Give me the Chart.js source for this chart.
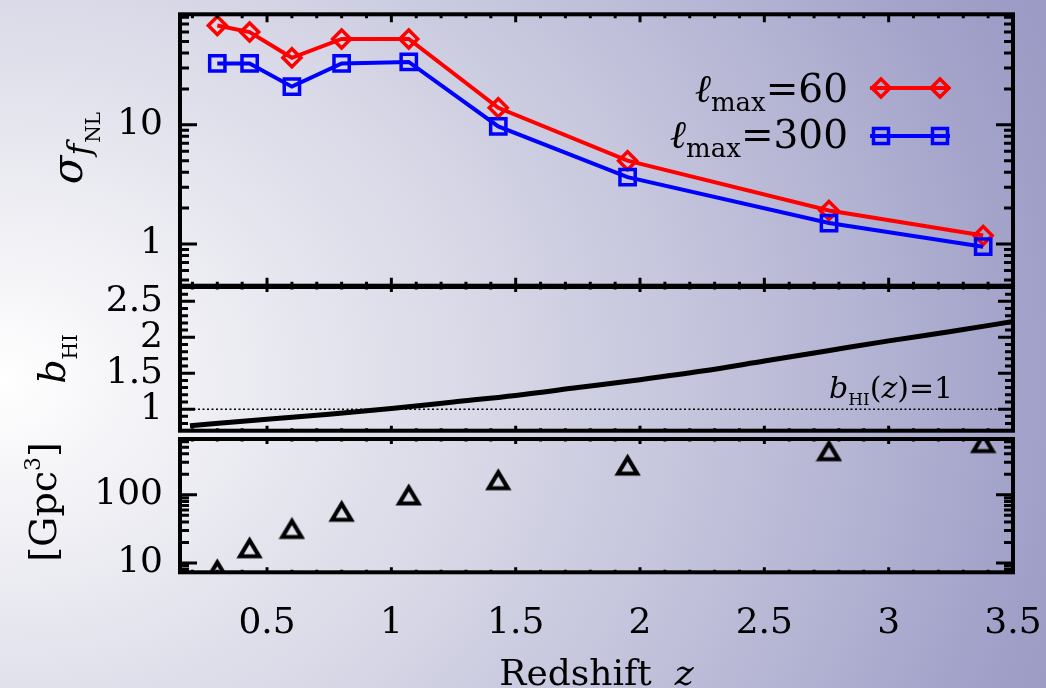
<!DOCTYPE html>
<html>
<head>
<meta charset="utf-8">
<title>Forecast sigma(fNL) vs redshift</title>
<script src="https://cdn.jsdelivr.net/npm/chart.js@4.4.1/dist/chart.umd.min.js"></script>
<style>
  html, body { margin: 0; padding: 0; }
  body {
    width: 1046px; height: 688px; overflow: hidden; position: relative;
    background: radial-gradient(ellipse 1150px 950px at 0px 380px,
      #ffffff 0%, #f0f0f5 16%, #d8d8e7 42%, #bcbcd8 68%, #9f9fc8 92%, #9a9ac4 100%);
  }
  canvas { position: absolute; left: 0; }
</style>
</head>
<body>
<canvas id="cSigma" width="1046" height="300" style="top:0px"></canvas>
<canvas id="cBias" width="1046" height="160" style="top:280px"></canvas>
<canvas id="cVol" width="1046" height="263" style="top:425px"></canvas>
<script>
// ---- data ----
const redshiftBins = [0.30, 0.43, 0.60, 0.80, 1.07, 1.43, 1.95, 2.76, 3.38];
const sigmaLmax60  = [68, 60, 36.5, 52.5, 52.5, 13.9, 5.0, 1.91, 1.18];
const sigmaLmax300 = [32.7, 32.7, 20.9, 32.7, 33.7, 9.7, 3.64, 1.50, 0.95];
const surveyVolume = [7.8, 16.4, 31.5, 56.4, 98, 164, 269, 437, 575];

const biasRedshift = [0.19, 0.5, 0.75, 1.0, 1.25, 1.5, 1.75, 2.0, 2.25, 2.5, 2.75, 3.0, 3.25, 3.5];
const biasHI       = [0.77, 0.86, 0.93, 1.01, 1.10, 1.19, 1.30, 1.41, 1.53, 1.67, 1.81, 1.95, 2.08, 2.22];
const biasUnity    = [1, 1];

const xRange = [0.15, 3.5];
const xTicks = [0.5, 1, 1.5, 2, 2.5, 3, 3.5];
const sigmaRange = [0.447, 84.5];
const sigmaTicks = [1, 10];
const biasRange = [0.7, 2.7];
const biasTicks = [1, 1.5, 2, 2.5];
const volumeRange = [7.28, 661];
const volumeTicks = [10, 100];

// ---- shared styling ----
const SERIF = '"DejaVu Serif", "Liberation Serif", serif';
const TICK_FONT = { family: SERIF, size: 36 };
const PLOT_LEFT = 180;
const PAD_RIGHT = 33;

const pts = (xs, ys) => xs.map((x, i) => ({ x, y: ys[i] }));

function range(a, b, step) {
  const out = [];
  for (let v = a; v <= b + 1e-9; v += step) out.push(Math.round(v * 1000) / 1000);
  return out;
}
const xMinor = range(0.2, 3.4, 0.1).filter(v => !xTicks.includes(v));

// inward tick marks and a box frame around each panel, IDL style
function framePlugin(cfg) {
  return {
    id: 'frame',
    afterDatasetsDraw(chart) {
      const { ctx, chartArea: a, scales } = chart;
      const xs = scales.x, ys = scales.y;
      ctx.save();
      ctx.strokeStyle = '#000';
      ctx.lineCap = 'butt';
      ctx.lineWidth = 3;
      ctx.beginPath();
      const yTick = (v, len) => {
        const p = ys.getPixelForValue(v);
        ctx.moveTo(a.left, p); ctx.lineTo(a.left + len, p);
        ctx.moveTo(a.right, p); ctx.lineTo(a.right - len, p);
      };
      const xTick = (v, len) => {
        const p = xs.getPixelForValue(v);
        ctx.moveTo(p, a.top); ctx.lineTo(p, a.top + len);
        ctx.moveTo(p, a.bottom); ctx.lineTo(p, a.bottom - len);
      };
      cfg.yMajor.forEach(v => yTick(v, cfg.yMajorLen));
      cfg.yMinor.forEach(v => yTick(v, cfg.yMinorLen));
      xTicks.forEach(v => xTick(v, cfg.xMajorLen));
      xMinor.forEach(v => xTick(v, cfg.xMinorLen));
      ctx.stroke();
      ctx.lineWidth = 4;
      ctx.strokeRect(a.left, a.top, a.right - a.left, a.bottom - a.top);
      ctx.restore();
    }
  };
}

function richWidth(ctx, parts) {
  let w = 0;
  for (const p of parts) { ctx.font = p.font; w += ctx.measureText(p.t).width + (p.kern || 0); }
  return w;
}
function drawRich(ctx, parts, x, y, align) {
  const w = richWidth(ctx, parts);
  let cx = align === 'right' ? x - w : align === 'center' ? x - w / 2 : x;
  ctx.textAlign = 'left';
  ctx.textBaseline = 'alphabetic';
  for (const p of parts) {
    ctx.font = p.font;
    ctx.fillText(p.t, cx, y + (p.dy || 0));
    cx += ctx.measureText(p.t).width + (p.kern || 0);
  }
}
function drawVertical(ctx, parts, baseX, centerY) {
  ctx.save();
  ctx.translate(baseX, centerY);
  ctx.rotate(-Math.PI / 2);
  drawRich(ctx, parts, 0, 0, 'center');
  ctx.restore();
}

function yAxis(type, rng, ticks, fmt) {
  return {
    type, min: rng[0], max: rng[1],
    afterFit(s) { s.width = PLOT_LEFT; s.paddingTop = 0; s.paddingBottom = 0; },
    afterBuildTicks(s) { s.ticks = ticks.map(v => ({ value: v })); },
    grid: { display: false, drawTicks: false },
    border: { display: false },
    ticks: { font: TICK_FONT, color: '#000', padding: 17, autoSkip: false, callback: fmt }
  };
}
const hiddenX = { type: 'linear', min: xRange[0], max: xRange[1], display: false };
const baseOptions = {
  responsive: false, animation: false, devicePixelRatio: 1,
  plugins: { legend: { display: false }, tooltip: { enabled: false } }
};

// ---- top panel: sigma(fNL) ----
const sigmaTitle = {
  id: 'sigmaTitle',
  afterDraw(chart) {
    const ctx = chart.ctx;
    ctx.save();
    ctx.fillStyle = '#000';
    drawVertical(ctx, [
      { t: 'σ', font: 'italic 42px ' + SERIF },
      { t: 'f', font: 'italic 32px ' + SERIF, dy: 8, kern: 1 },
      { t: 'NL', font: '20px ' + SERIF, dy: 18 }
    ], 82, 148);

    // legend
    const rows = [
      { n: '60', color: '#ff0000', y: 102, my: 88, style: 'diamond' },
      { n: '300', color: '#0000ff', y: 148, my: 136, style: 'square' }
    ];
    for (const r of rows) {
      ctx.fillStyle = '#000';
      drawRich(ctx, [
        { t: 'ℓ', font: 'italic 39px ' + SERIF },
        { t: 'max', font: '26px ' + SERIF, dy: 9 },
        { t: '=' + r.n, font: '39px ' + SERIF }
      ], 848, r.y, 'right');
      ctx.strokeStyle = r.color;
      ctx.lineWidth = 4;
      ctx.beginPath(); ctx.moveTo(870, r.my); ctx.lineTo(950, r.my); ctx.stroke();
      ctx.lineWidth = 3.5;
      for (const cx of [881, 940]) {
        ctx.beginPath();
        if (r.style === 'diamond') {
          ctx.moveTo(cx, r.my - 9); ctx.lineTo(cx + 9, r.my);
          ctx.lineTo(cx, r.my + 9); ctx.lineTo(cx - 9, r.my); ctx.closePath();
        } else {
          ctx.rect(cx - 7.5, r.my - 7.5, 15, 15);
        }
        ctx.stroke();
      }
    }
    ctx.restore();
  }
};

new Chart(document.getElementById('cSigma'), {
  type: 'line',
  data: {
    datasets: [
      {
        label: 'ℓmax=300', data: pts(redshiftBins, sigmaLmax300),
        borderColor: '#0000ff', borderWidth: 4,
        pointStyle: 'rect', pointRadius: 10.8, pointBorderWidth: 3.5,
        pointBorderColor: '#0000ff', pointBackgroundColor: 'rgba(0,0,0,0)'
      },
      {
        label: 'ℓmax=60', data: pts(redshiftBins, sigmaLmax60),
        borderColor: '#ff0000', borderWidth: 4,
        pointStyle: 'rectRot', pointRadius: 9, pointBorderWidth: 3.5,
        pointBorderColor: '#ff0000', pointBackgroundColor: 'rgba(0,0,0,0)'
      }
    ]
  },
  options: {
    ...baseOptions,
    layout: { padding: { left: 0, right: PAD_RIGHT, top: 7, bottom: 13 } },
    scales: {
      x: hiddenX,
      y: yAxis('logarithmic', sigmaRange, sigmaTicks, v => String(v))
    }
  },
  plugins: [framePlugin({
    yMajor: sigmaTicks, yMajorLen: 17,
    yMinor: [0.5, 0.6, 0.7, 0.8, 0.9, 2, 3, 4, 5, 6, 7, 8, 9, 20, 30, 40, 50, 60, 70, 80], yMinorLen: 9,
    xMajorLen: 8, xMinorLen: 4
  }), sigmaTitle]
});

// ---- middle panel: HI bias ----
const biasTitle = {
  id: 'biasTitle',
  afterDraw(chart) {
    const ctx = chart.ctx;
    ctx.save();
    ctx.fillStyle = '#000';
    drawVertical(ctx, [
      { t: 'b', font: 'italic 38px ' + SERIF },
      { t: 'HI', font: '20px ' + SERIF, dy: 12 }
    ], 65 , 359 - 280);
    drawRich(ctx, [
      { t: 'b', font: 'italic 30px ' + SERIF },
      { t: 'HI', font: '17px ' + SERIF, dy: 7 },
      { t: '(', font: '30px ' + SERIF },
      { t: 'z', font: 'italic 30px ' + SERIF },
      { t: ')=1', font: '30px ' + SERIF }
    ], 829, 398 - 280, 'left');
    ctx.restore();
  }
};

new Chart(document.getElementById('cBias'), {
  type: 'line',
  data: {
    datasets: [
      {
        label: 'b_HI(z)', data: pts(biasRedshift, biasHI),
        borderColor: '#000', borderWidth: 5, pointRadius: 0,
        cubicInterpolationMode: 'monotone'
      },
      {
        label: 'b_HI(z)=1', data: pts(xRange, biasUnity),
        borderColor: '#000', borderWidth: 1.5, borderDash: [2, 2.5], pointRadius: 0
      }
    ]
  },
  options: {
    ...baseOptions,
    layout: { padding: { left: 0, right: PAD_RIGHT, top: 7, bottom: 9.3 } },
    scales: {
      x: hiddenX,
      y: yAxis('linear', biasRange, biasTicks, v => String(v))
    }
  },
  plugins: [framePlugin({
    yMajor: biasTicks, yMajorLen: 15,
    yMinor: range(0.8, 2.6, 0.1).filter(v => !biasTicks.includes(v)), yMinorLen: 8,
    xMajorLen: 5, xMinorLen: 2.5
  }), biasTitle]
});

// ---- bottom panel: survey volume ----
function triangleMarker() {
  const c = document.createElement('canvas');
  c.width = 27; c.height = 25;
  const g = c.getContext('2d');
  g.strokeStyle = '#000';
  g.lineWidth = 4.2;
  g.lineJoin = 'miter';
  g.beginPath();
  g.moveTo(13.5, 4.5); g.lineTo(23, 20.5); g.lineTo(4, 20.5); g.closePath();
  g.stroke();
  return c;
}

const volumeTitle = {
  id: 'volumeTitle',
  afterDraw(chart) {
    const ctx = chart.ctx;
    ctx.save();
    ctx.fillStyle = '#000';
    drawVertical(ctx, [
      { t: '[Gpc', font: '38px ' + SERIF },
      { t: '3', font: '22px ' + SERIF, dy: -16 },
      { t: ']', font: '38px ' + SERIF }
    ], 56, 502 - 425);
    const a = chart.chartArea;
    drawRich(ctx, [
      { t: 'Redshift', font: '36px ' + SERIF },
      { t: '  ', font: '36px ' + SERIF },
      { t: 'z', font: 'italic 36px ' + SERIF }
    ], (a.left + a.right) / 2, 685 - 425, 'center');
    ctx.restore();
  }
};

new Chart(document.getElementById('cVol'), {
  type: 'line',
  data: {
    datasets: [{
      label: 'Volume', data: pts(redshiftBins, surveyVolume),
      showLine: false, pointStyle: triangleMarker(), pointRadius: 13, clip: 0
    }]
  },
  options: {
    ...baseOptions,
    layout: { padding: { left: 0, right: PAD_RIGHT, top: 5.7, bottom: 0 } },
    scales: {
      x: {
        type: 'linear', min: xRange[0], max: xRange[1],
        afterFit(s) { s.height = 115.7; s.paddingLeft = 0; s.paddingRight = 0; },
        afterBuildTicks(s) { s.ticks = xTicks.map(v => ({ value: v })); },
        grid: { display: false, drawTicks: false },
        border: { display: false },
        ticks: { font: TICK_FONT, color: '#000', padding: 30, autoSkip: false, maxRotation: 0, callback: v => String(v) }
      },
      y: yAxis('logarithmic', volumeRange, volumeTicks, v => String(v))
    }
  },
  plugins: [framePlugin({
    yMajor: volumeTicks, yMajorLen: 17,
    yMinor: [8, 9, 20, 30, 40, 50, 60, 70, 80, 90, 200, 300, 400, 500, 600], yMinorLen: 9,
    xMajorLen: 5, xMinorLen: 2.5
  }), volumeTitle]
});
</script>
</body>
</html>
